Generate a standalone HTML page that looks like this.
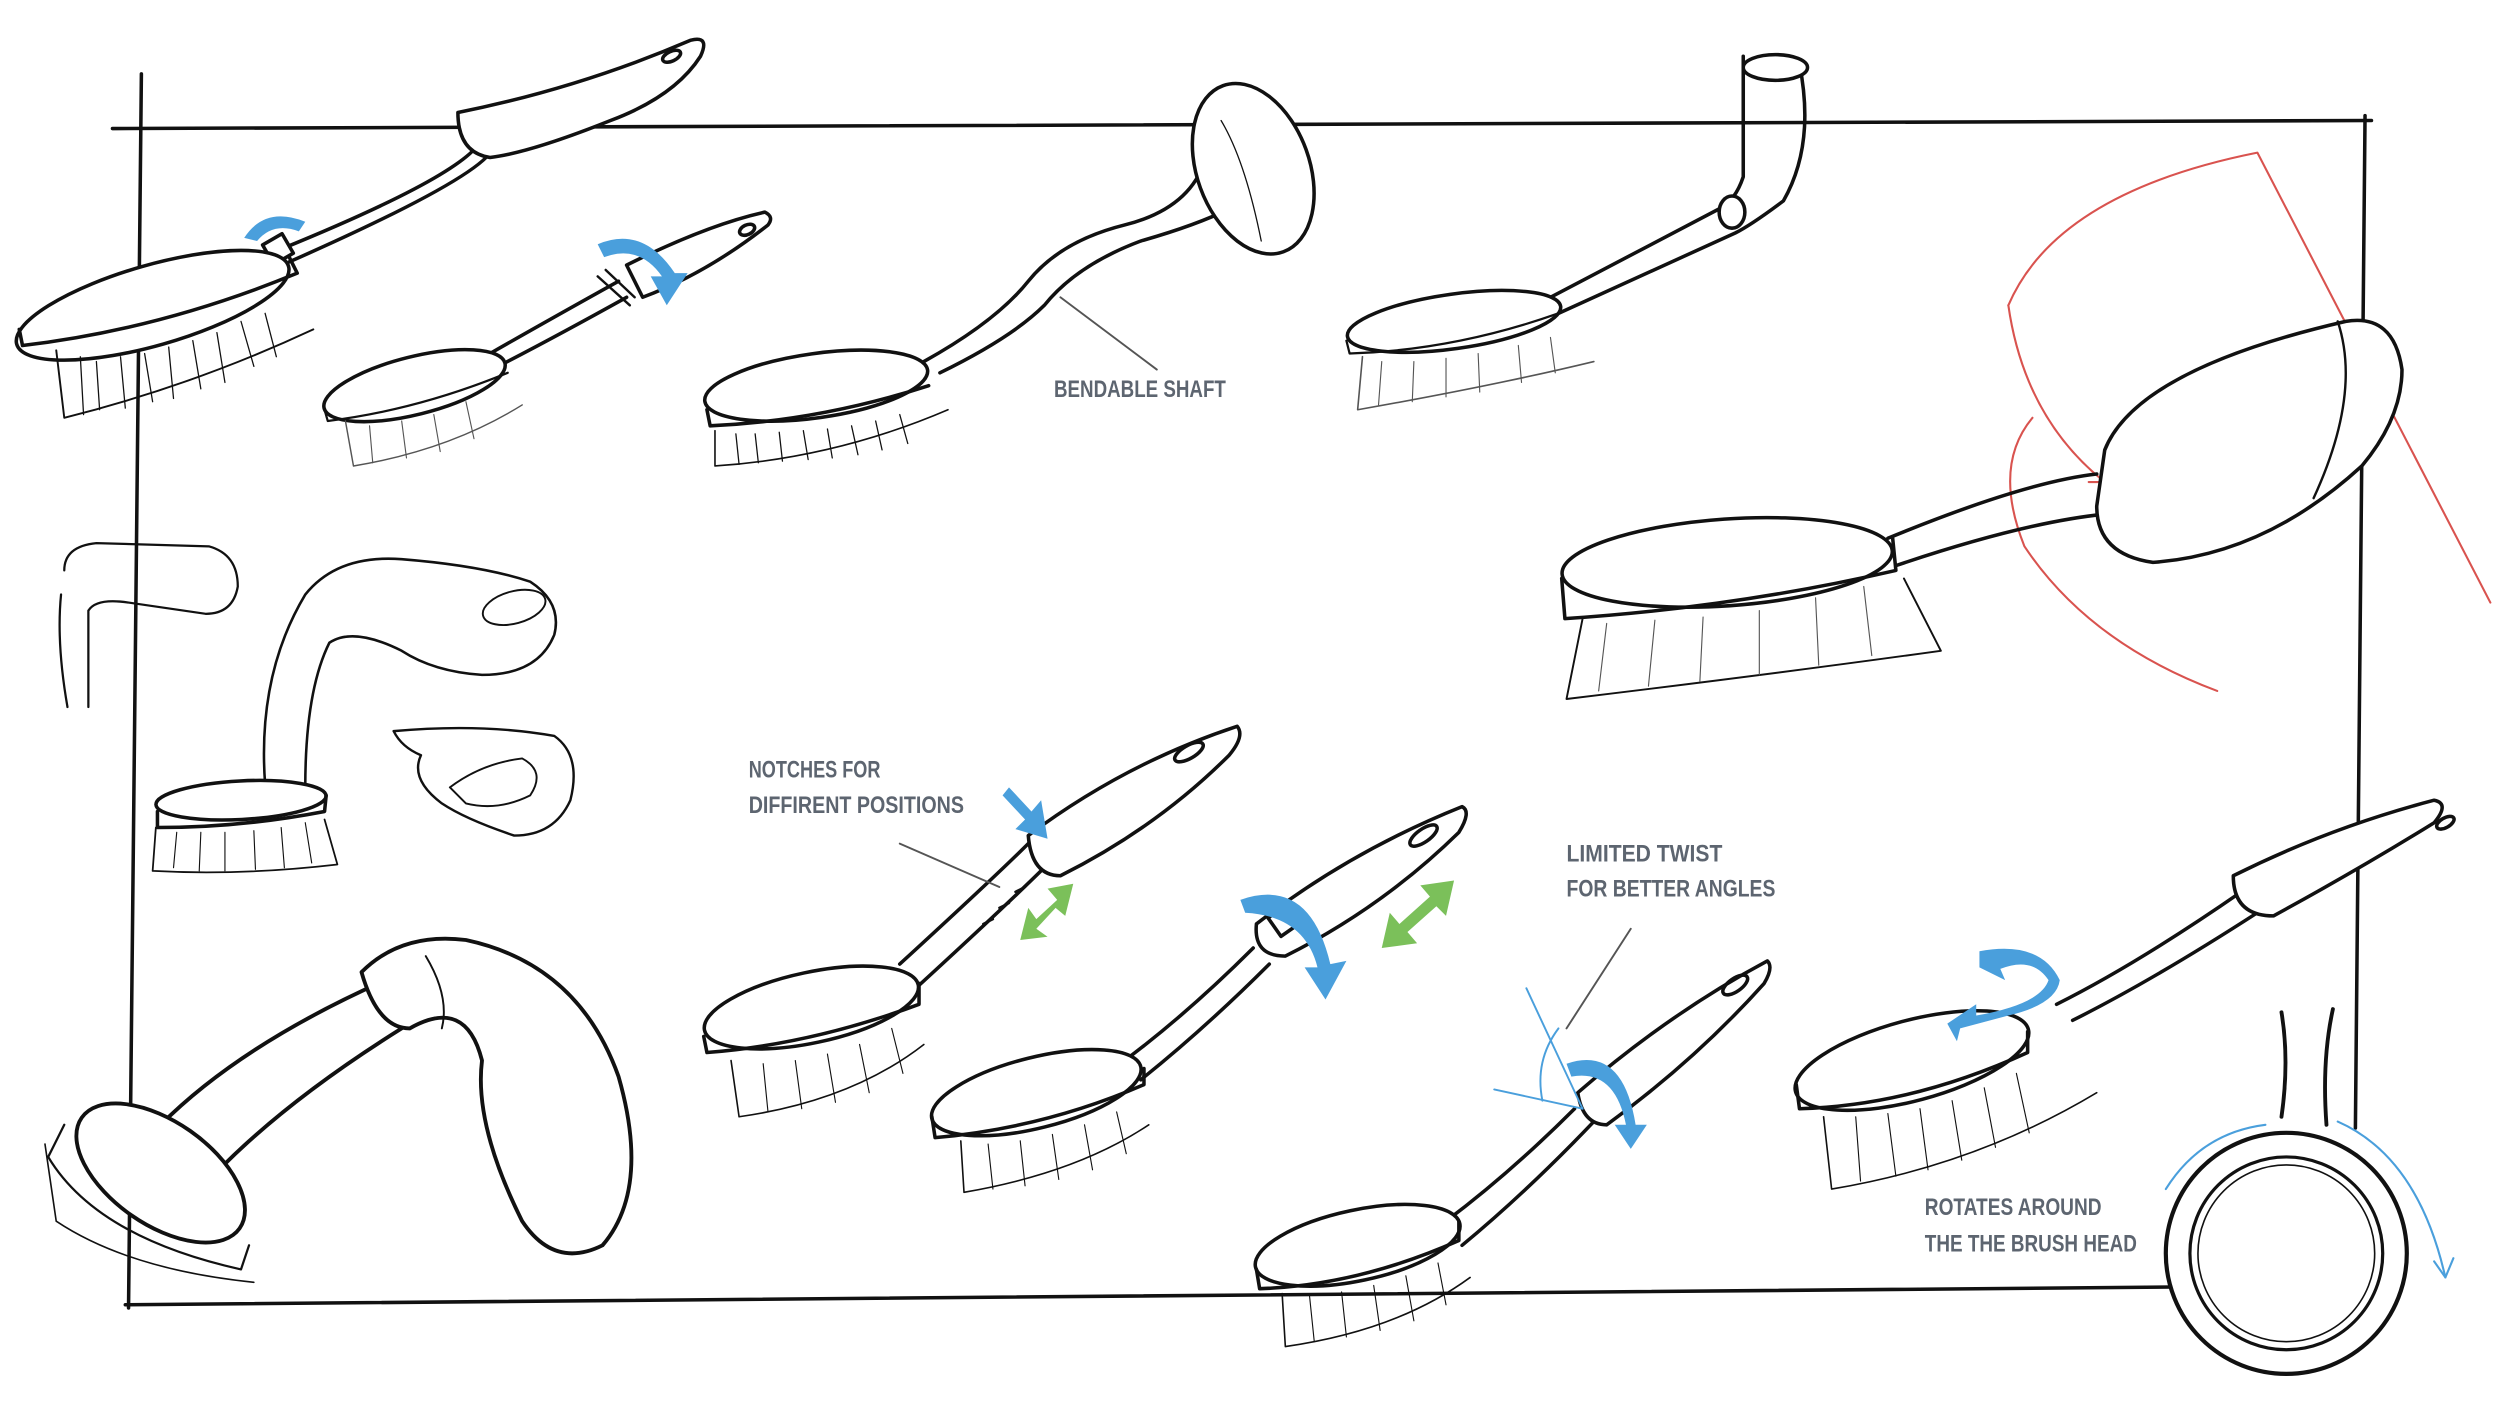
<!DOCTYPE html>
<html><head><meta charset="utf-8"><style>
html,body{margin:0;padding:0;background:#fff;}
svg{display:block;}
text{font-family:"Liberation Sans",sans-serif;fill:#5d6570;font-size:15px;font-weight:bold;}
</style></head><body>
<svg width="2500" height="1406" viewBox="0 0 1556 875" preserveAspectRatio="none" xmlns="http://www.w3.org/2000/svg">
<rect width="1556" height="875" fill="#fff"/>
<g fill="none" stroke="#111" stroke-width="2.2" stroke-linecap="round" stroke-linejoin="round">
<!-- frame -->
<path d="M70 80 L1476 75" /><path d="M88 46 L80 814"/><path d="M78 812 L1462 800"/><path d="M1472 72 L1466 702"/>

<!-- brush 1 top-left -->
<path d="M300 80 Q310 100 175 155"/><path d="M307 92 Q300 110 180 163"/>
<path d="M285 70 Q360 55 430 25 Q442 22 436 35 Q420 60 380 75 Q330 95 305 98 Q285 95 285 70Z" fill="#fff"/>
<ellipse cx="418" cy="35" rx="6" ry="3" transform="rotate(-25 418 35)"/>
<rect x="166" y="148" width="14" height="14" transform="rotate(-30 173 155)" fill="#fff"/>
<ellipse cx="95" cy="190" rx="88" ry="25" transform="rotate(-16 95 190)" fill="#fff"/>
<path d="M12 205 L14 215 Q100 205 185 170 L180 160"/>
<path d="M35 218 L40 260 Q120 240 195 205" stroke-width="1.2"/>
<path d="M50 222 L52 258 M60 225 L62 255 M75 222 L78 254 M90 220 L95 250 M105 216 L108 248 M120 212 L125 242 M135 207 L140 238 M150 200 L158 228 M165 195 L172 222" stroke-width="0.8"/>

<!-- brush 2 -->
<path d="M385 175 Q340 200 305 220"/><path d="M390 185 Q345 210 310 228"/>
<path d="M390 165 Q440 140 476 132 Q482 135 478 140 Q440 170 400 185Z" fill="#fff"/>
<ellipse cx="465" cy="143" rx="5" ry="3" transform="rotate(-25 465 143)"/>
<path d="M372 172 L392 190 M377 168 L395 185" stroke-width="1.5"/>
<ellipse cx="258" cy="240" rx="58" ry="18" transform="rotate(-14 258 240)" fill="#fff"/>
<path d="M202 255 L204 262 Q260 255 316 232" stroke-width="1.4"/>
<path d="M215 262 L220 290 Q280 280 325 252" stroke-width="0.9" stroke="#555"/>
<path d="M230 265 L232 288 M250 262 L253 285 M270 258 L274 281 M290 250 L295 273" stroke-width="0.7" stroke="#555"/>

<!-- brush 3 bendable -->
<path d="M575 225 Q620 200 640 175 Q660 150 700 140 Q740 130 750 100"/>
<path d="M585 232 Q630 210 650 190 Q670 165 710 150 Q745 140 765 130"/>
<ellipse cx="780" cy="105" rx="35" ry="55" transform="rotate(-20 780 105)" fill="#fff"/>
<path d="M760 75 Q775 100 785 150" stroke-width="0.8"/>
<ellipse cx="508" cy="240" rx="70" ry="20" transform="rotate(-8 508 240)" fill="#fff"/>
<path d="M440 255 L442 265 Q510 262 578 240"/>
<path d="M445 268 L445 290 Q520 285 590 255" stroke-width="1"/>
<path d="M458 270 L460 289 M470 270 L472 288 M485 269 L487 287 M500 268 L503 286 M515 267 L518 285 M530 265 L534 283 M545 262 L549 280 M560 258 L565 276" stroke-width="0.8"/>
<path d="M660 185 L720 230" stroke="#555" stroke-width="1.2"/>

<!-- brush 4 -->
<path d="M1085 35 L1085 110 Q1080 125 1070 130 L965 185"/><path d="M1120 40 Q1130 90 1110 125 Q1090 140 1080 145 L970 195"/>
<ellipse cx="1105" cy="42" rx="20" ry="8" fill="#fff"/>
<ellipse cx="1078" cy="132" rx="8" ry="10" fill="#fff"/>
<ellipse cx="905" cy="200" rx="67" ry="17" transform="rotate(-8 905 200)" fill="#fff"/>
<path d="M838 212 L840 220 Q905 218 970 195" stroke-width="1.4"/>
<path d="M848 222 L845 255 Q930 240 992 225" stroke-width="1" stroke="#555"/>
<path d="M860 225 L858 252 M880 225 L879 250 M900 223 L900 247 M920 220 L921 244 M945 215 L947 238 M965 210 L968 232" stroke-width="0.7" stroke="#555"/>

<!-- big brush right -->
<g stroke="#d9534f" stroke-width="1.3">
<path d="M1250 190 Q1280 120 1405 95 L1550 375"/>
<path d="M1250 190 Q1260 260 1310 300"/>
<path d="M1265 260 Q1240 290 1260 340 Q1300 400 1380 430"/>
<path d="M1350 300 L1300 300"/>
</g>
<path d="M1175 335 Q1260 300 1305 295"/><path d="M1180 352 Q1260 325 1310 320"/>
<path d="M1310 280 Q1330 230 1460 200 Q1490 195 1495 230 Q1495 260 1470 290 Q1410 345 1340 350 Q1305 345 1305 315Z" fill="#fff"/>
<path d="M1455 200 Q1470 245 1440 310" stroke-width="1.5"/>
<ellipse cx="1075" cy="350" rx="103" ry="27" transform="rotate(-4 1075 350)" fill="#fff"/>
<path d="M972 360 L974 385 Q1080 378 1180 355 L1178 335"/>
<path d="M985 385 L975 435 Q1100 420 1208 405 L1185 360" stroke-width="1.2"/>
<path d="M1000 388 L995 430 M1030 386 L1026 427 M1060 384 L1058 424 M1095 380 L1095 420 M1130 372 L1132 414 M1160 365 L1165 408" stroke-width="0.7" stroke="#555"/>

<!-- left sketches -->
<path d="M40 355 Q40 340 60 338 L130 340 Q148 345 148 365 Q145 382 128 382 L80 375 Q60 372 55 380 L55 440" stroke-width="1.4"/>
<path d="M38 370 Q35 400 42 440" stroke-width="1.4"/>
<path d="M165 488 Q160 420 190 370 Q210 345 250 348 Q300 352 330 362 Q350 375 345 395 Q335 420 300 420 Q270 418 250 405 Q220 390 205 400 Q190 430 190 490" stroke-width="1.6"/>
<ellipse cx="320" cy="378" rx="20" ry="10" transform="rotate(-15 320 378)" stroke-width="1.2"/>
<ellipse cx="150" cy="498" rx="53" ry="12" transform="rotate(-3 150 498)" fill="#fff"/>
<path d="M98 505 L98 515 Q150 515 202 505 L203 495"/>
<path d="M97 515 L95 542 Q150 545 210 538 L202 510" stroke-width="1.1"/>
<path d="M110 518 L108 540 M125 518 L124 542 M140 518 L140 542 M158 517 L159 541 M175 515 L177 540 M190 512 L194 537" stroke-width="0.7"/>
<path d="M245 455 Q300 450 345 458 Q362 470 355 498 Q345 520 320 520 Q290 510 275 500 Q255 485 262 470 Q250 465 245 455Z" stroke-width="1.5"/>
<path d="M280 490 Q300 475 325 472 Q340 480 330 495 Q310 505 290 500Z" stroke-width="1.2"/>

<!-- big loop bottom-left -->
<path d="M100 700 Q150 650 240 610 M125 740 Q170 690 250 640" stroke-width="2.4"/>
<path d="M225 605 Q250 580 290 585 Q360 600 385 670 Q405 740 375 775 Q345 790 325 760 Q295 700 300 660 Q290 620 255 640 Q235 640 225 605Z" fill="#fff" stroke-width="2.4"/>
<path d="M265 595 Q280 620 275 640" stroke-width="1.2"/>
<ellipse cx="100" cy="730" rx="60" ry="32" transform="rotate(35 100 730)" fill="#fff" stroke-width="2.4"/>
<path d="M40 700 L30 720 Q60 770 150 790 L155 775" stroke-width="1.4"/>
<path d="M28 712 L35 760 Q80 790 158 798" stroke-width="1"/>

<!-- notches brush -->
<path d="M640 525 Q620 545 560 600"/><path d="M655 535 Q630 560 570 615"/>
<path d="M640 520 Q700 475 770 452 Q775 458 765 470 Q720 515 660 545 Q642 545 640 520Z" fill="#fff"/>
<ellipse cx="740" cy="468" rx="10" ry="4" transform="rotate(-30 740 468)"/>
<path d="M612 575 L618 572 M622 565 L628 562 M632 555 L638 552" stroke-width="1.5"/>
<ellipse cx="505" cy="627" rx="68" ry="22" transform="rotate(-12 505 627)" fill="#fff"/>
<path d="M438 645 L440 655 Q505 650 572 625 L572 612"/>
<path d="M455 660 L460 695 Q530 685 575 650" stroke-width="1"/>
<path d="M475 662 L478 692 M495 660 L499 690 M515 656 L520 686 M535 650 L541 680 M555 640 L562 668" stroke-width="0.7"/>
<path d="M560 525 L622 552" stroke="#555" stroke-width="1.2"/>

<!-- twist brush middle -->
<path d="M780 590 Q740 630 700 660"/><path d="M790 600 Q750 640 710 672"/>
<path d="M782 575 Q840 530 910 502 Q916 505 908 518 Q860 565 800 595 Q780 595 782 575Z" fill="#fff"/>
<ellipse cx="886" cy="520" rx="10" ry="4" transform="rotate(-35 886 520)"/>
<rect x="792" y="566" width="14" height="14" transform="rotate(-35 799 573)" fill="#fff"/>
<ellipse cx="645" cy="680" rx="67" ry="22" transform="rotate(-14 645 680)" fill="#fff"/>
<path d="M580 695 L582 708 Q650 702 712 675 L712 665"/>
<path d="M598 710 L600 742 Q670 730 715 700" stroke-width="1"/>
<path d="M615 712 L618 740 M635 710 L638 738 M655 706 L659 734 M675 700 L680 728 M695 692 L701 718" stroke-width="0.7"/>

<!-- limited twist brush -->
<path d="M980 690 Q940 730 900 760"/><path d="M992 698 Q950 742 910 775"/>
<path d="M982 680 Q1040 630 1100 598 Q1104 602 1098 612 Q1055 660 1000 700 Q985 700 982 680Z" fill="#fff"/>
<ellipse cx="1080" cy="613" rx="9" ry="4" transform="rotate(-35 1080 613)"/>
<ellipse cx="845" cy="775" rx="65" ry="22" transform="rotate(-12 845 775)" fill="#fff"/>
<path d="M782 790 L784 802 Q845 800 908 772 L908 760"/>
<path d="M798 805 L800 838 Q870 828 915 795" stroke-width="1"/>
<path d="M815 806 L818 835 M835 804 L838 832 M855 800 L859 828 M875 794 L880 822 M895 786 L900 812" stroke-width="0.7"/>
<path d="M1015 578 L975 640" stroke="#555" stroke-width="1.2"/>
<g stroke="#4a9fdc" stroke-width="1.2"><path d="M950 615 L985 690 L930 678"/><path d="M970 640 Q955 660 960 685"/></g>

<!-- rotating brush right -->
<path d="M1395 555 Q1330 600 1280 625"/><path d="M1405 568 Q1340 610 1290 635"/>
<path d="M1390 545 Q1450 515 1515 498 Q1525 500 1515 512 Q1470 540 1415 570 Q1390 570 1390 545Z" fill="#fff"/>
<ellipse cx="1522" cy="512" rx="6" ry="3" transform="rotate(-30 1522 512)"/>
<path d="M1420 630 Q1425 660 1420 695 M1452 628 Q1445 660 1448 700" stroke-width="2.4"/>
<circle cx="1423" cy="780" r="75" fill="#fff" stroke-width="2.6"/>
<circle cx="1423" cy="780" r="60" stroke-width="2"/>
<circle cx="1423" cy="780" r="55" stroke-width="1"/>
<ellipse cx="1190" cy="660" rx="75" ry="25" transform="rotate(-15 1190 660)" fill="#fff"/>
<path d="M1118 675 L1120 690 Q1190 688 1262 655 L1262 642"/>
<path d="M1135 695 L1140 740 Q1230 725 1305 680" stroke-width="1"/>
<path d="M1155 695 L1158 735 M1175 693 L1180 732 M1195 690 L1200 728 M1215 685 L1221 722 M1235 677 L1242 714 M1255 668 L1263 705" stroke-width="0.7"/>
<g stroke="#4a9fdc" stroke-width="1.3"><path d="M1410 700 Q1370 705 1348 740"/><path d="M1455 698 Q1505 720 1522 795"/><path d="M1515 785 L1522 795 L1527 783"/></g>
</g>

<!-- blue arrows -->
<g fill="#4a9fdc">
<path d="M152 148 Q165 128 190 138 L186 144 Q170 138 160 150Z"/>
<path d="M372 152 Q400 140 420 170 L428 170 L415 190 L405 172 L412 172 Q398 152 376 160Z"/>
<path d="M628 490 L642 505 L648 498 L652 522 L632 516 L638 510 L624 495Z"/>
<path d="M772 560 Q815 545 828 600 L838 598 L825 622 L812 602 L820 602 Q812 570 775 568Z"/>
<path d="M975 662 Q1010 650 1018 700 L1025 700 L1015 715 L1005 700 L1012 700 Q1005 665 978 670Z"/>
<path d="M1232 592 Q1270 585 1282 610 Q1280 625 1250 632 L1220 640 L1218 648 L1212 637 L1230 625 L1230 632 Q1270 625 1275 610 Q1265 595 1245 603 L1248 610 L1232 602Z"/>
</g>
<g fill="#7bc05a">
<path d="M635 585 L640 565 L645 572 L658 560 L652 553 L668 550 L663 570 L657 565 L645 578 L652 583Z"/>
<path d="M860 590 L865 568 L871 575 L890 558 L884 551 L905 548 L900 570 L894 564 L876 580 L882 587Z"/>
</g>

<!-- labels -->
<text x="656" y="247" textLength="107" lengthAdjust="spacingAndGlyphs">BENDABLE SHAFT</text>
<text x="466" y="484" textLength="82" lengthAdjust="spacingAndGlyphs">NOTCHES FOR</text>
<text x="466" y="506" textLength="134" lengthAdjust="spacingAndGlyphs">DIFFIRENT POSITIONS</text>
<text x="975" y="536" textLength="97" lengthAdjust="spacingAndGlyphs">LIMITED TWIST</text>
<text x="975" y="558" textLength="130" lengthAdjust="spacingAndGlyphs">FOR BETTER ANGLES</text>
<text x="1198" y="756" textLength="110" lengthAdjust="spacingAndGlyphs">ROTATES AROUND</text>
<text x="1198" y="779" textLength="132" lengthAdjust="spacingAndGlyphs">THE THE BRUSH HEAD</text>
</svg>
</body></html>
